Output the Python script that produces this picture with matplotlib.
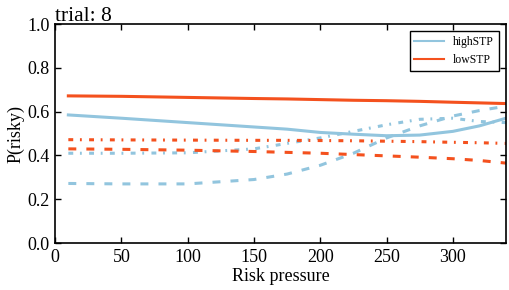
import numpy as np
import matplotlib
matplotlib.use('Agg')
import matplotlib.pyplot as plt
from matplotlib.lines import Line2D

plt.rcParams['font.family'] = ['Liberation Serif', 'DejaVu Serif']
plt.rcParams['xtick.direction'] = 'in'
plt.rcParams['ytick.direction'] = 'in'

# Data
pressure = [10, 50, 100, 150, 175, 200, 225, 250, 275, 300, 320, 340]

high_solid = [0.585, 0.570, 0.550, 0.530, 0.520, 0.505, 0.497, 0.490, 0.493, 0.510, 0.535, 0.570]
high_dashdot = [0.410, 0.410, 0.412, 0.430, 0.455, 0.480, 0.510, 0.540, 0.565, 0.570, 0.555, 0.550]
high_dashed = [0.272, 0.270, 0.270, 0.290, 0.315, 0.355, 0.410, 0.480, 0.535, 0.580, 0.605, 0.625]

low_solid = [0.672, 0.670, 0.665, 0.660, 0.658, 0.655, 0.652, 0.650, 0.647, 0.643, 0.640, 0.637]
low_dashdot = [0.472, 0.471, 0.470, 0.469, 0.469, 0.468, 0.467, 0.465, 0.463, 0.460, 0.458, 0.455]
low_dashed = [0.430, 0.428, 0.424, 0.418, 0.414, 0.410, 0.404, 0.398, 0.392, 0.385, 0.377, 0.365]

BLUE = '#92c5de'
RED = '#f4511e'

# dash patterns, in units of line width
DASHED = (0, (2.6, 3.3))
DASHDOT = (0, (1.6, 2.2, 0.6, 2.4))

fig = plt.figure(figsize=(5.1, 2.9), dpi=100)
ax = fig.add_axes([0.108, 0.162, 0.884, 0.755])

lw = 2.2
ax.plot(pressure, high_solid, color=BLUE, lw=lw, ls='-')
ax.plot(pressure, high_dashdot, color=BLUE, lw=lw, ls=DASHDOT)
ax.plot(pressure, high_dashed, color=BLUE, lw=lw, ls=DASHED)
ax.plot(pressure, low_solid, color=RED, lw=lw, ls='-')
ax.plot(pressure, low_dashdot, color=RED, lw=lw, ls=DASHDOT)
ax.plot(pressure, low_dashed, color=RED, lw=lw, ls=DASHED)

ax.set_xlim(0, 340)
ax.set_ylim(0, 1.0)
ax.set_xticks([0, 50, 100, 150, 200, 250, 300])
ax.set_yticks([0.0, 0.2, 0.4, 0.6, 0.8, 1.0])
ax.tick_params(top=True, right=True, length=4, width=1, labelsize=13, pad=4)
for s in ax.spines.values():
    s.set_linewidth(1.2)

ax.set_xlabel('Risk pressure', fontsize=13, labelpad=2)
ax.set_ylabel('P(risky)', fontsize=13, labelpad=2)
ax.set_title('trial: 8', loc='left', fontsize=15.5, pad=2)

handles = [Line2D([], [], color=BLUE, lw=1.5), Line2D([], [], color=RED, lw=1.5)]
leg = ax.legend(handles, ['highSTP', 'lowSTP'], loc='upper right', fontsize=8.5,
                fancybox=False, framealpha=1, edgecolor='black', borderaxespad=0.6,
                handlelength=2.5)
leg.get_frame().set_linewidth(1.0)

fig.savefig('out.png', dpi=100)
